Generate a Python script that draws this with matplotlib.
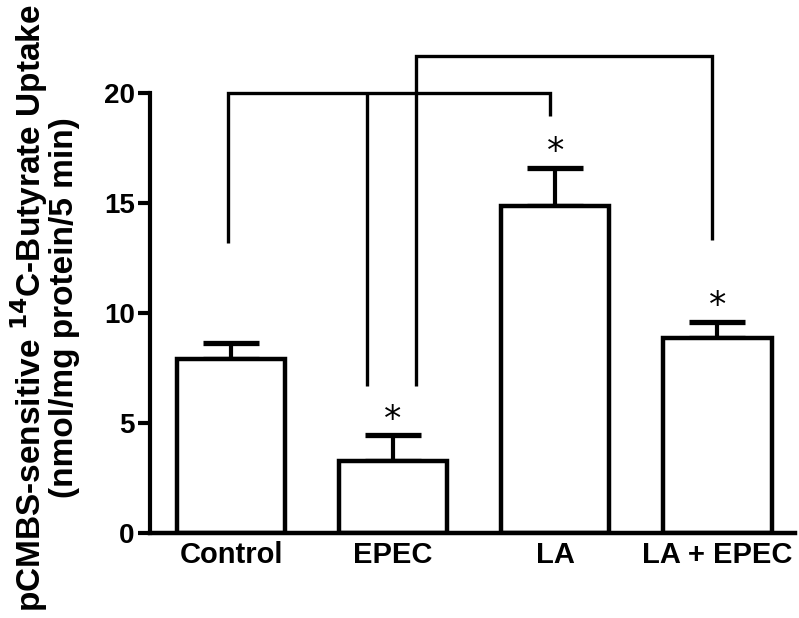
import matplotlib
matplotlib.use("Agg")
import matplotlib.pyplot as plt
import numpy as np

plt.rcParams['font.family'] = ['Liberation Sans', 'DejaVu Sans']

categories = ["Control", "EPEC", "LA", "LA + EPEC"]
values = [7.9, 3.27, 14.85, 8.85]
errors = [0.74, 1.18, 1.75, 0.75]
star_groups = [1, 2, 3]
yticks = [0, 5, 10, 15, 20]

# brackets: (x_left, y_left_bottom, x_right, y_right_bottom, y_top)
bracket1 = dict(x0=-0.02, y0=13.2, x1=1.97, y1=18.95, top=20.0)
bracket2 = dict(x0=1.14, y0=6.7, x1=2.97, y1=13.3, top=21.7)
epec_drop = dict(x=0.84, y0=6.7, top=20.0)

fig = plt.figure(figsize=(7.99, 6.18), dpi=100)
ax = fig.add_axes([150/799, 1-533/618, (795-150)/799, (533-38)/618])

x = np.arange(len(categories))
ax.bar(x, values, width=0.67, color='white', edgecolor='black', linewidth=3.2, zorder=2)
ax.errorbar(x, values, yerr=[np.zeros(len(values)), errors], fmt='none', ecolor='black',
            elinewidth=3.0, capsize=20, capthick=3.8, zorder=1)

lw = 2.4
for b in (bracket1, bracket2):
    ax.plot([b['x0'], b['x0'], b['x1'], b['x1']], [b['y0'], b['top'], b['top'], b['y1']],
            color='black', lw=lw, solid_joinstyle='miter', solid_capstyle='butt', zorder=3)
ax.plot([epec_drop['x'], epec_drop['x']], [epec_drop['y0'], epec_drop['top']], color='black',
        lw=lw, solid_capstyle='butt', zorder=3)

for i in star_groups:
    ax.text(x[i], values[i] + errors[i] + 0.25, '*', ha='center', va='baseline', fontsize=25,
            fontfamily='DejaVu Sans')

ax.set_xlim(-0.5, 3.48)
ax.set_ylim(0, 22.5)
ax.set_yticks(yticks)
ax.set_yticklabels([str(t) for t in yticks], fontsize=20, fontweight='bold')
ax.set_xticks(x)
ax.set_xticklabels(categories, fontsize=21, fontweight='bold')
ax.tick_params(axis='x', length=0, pad=6)
ax.tick_params(axis='y', length=9, width=3, direction='out', pad=2)
for s in ('top', 'right'):
    ax.spines[s].set_visible(False)
ax.spines['left'].set_bounds(0, 20)
ax.spines['left'].set_linewidth(3)
ax.spines['bottom'].set_linewidth(3.2)
ax.set_ylabel('pCMBS-sensitive $\\mathbf{^{14}}$C-Butyrate Uptake\n(nmol/mg protein/5 min)',
              fontsize=24, fontweight='bold', linespacing=0.95)
ax.yaxis.set_label_coords((80-150)/645, (533-308)/495)

fig.savefig('out.png', dpi=100)
